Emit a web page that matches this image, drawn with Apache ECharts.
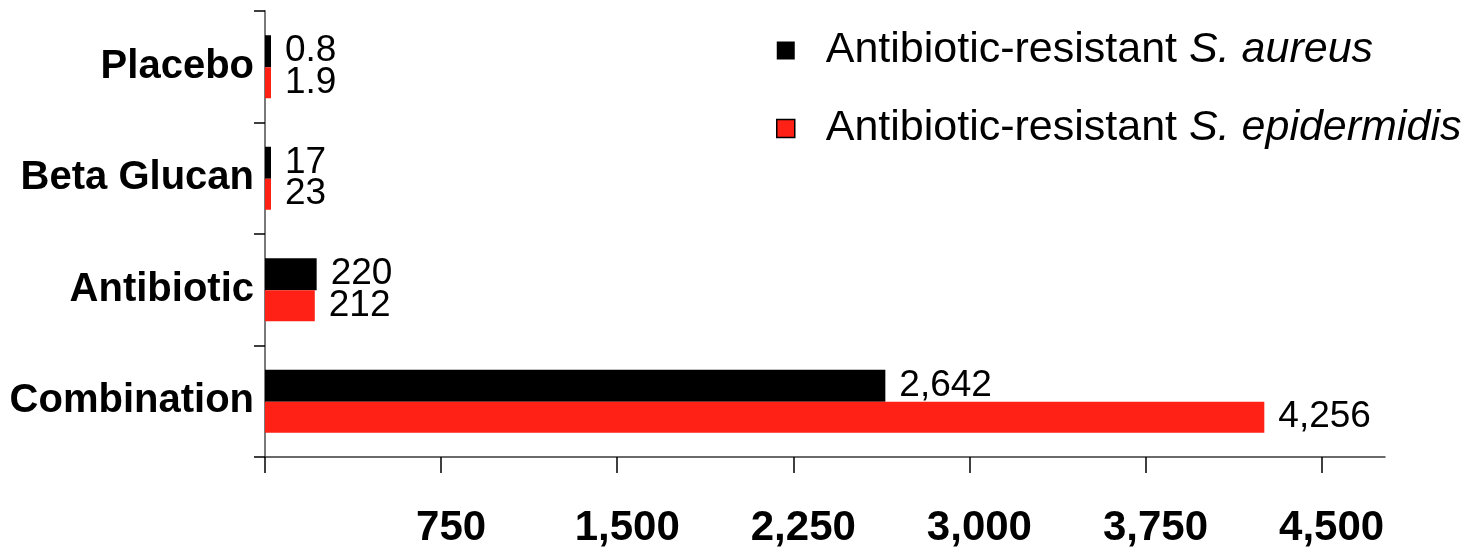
<!DOCTYPE html>
<html>
<head>
<meta charset="utf-8">
<script src="https://cdn.jsdelivr.net/npm/echarts@6/dist/echarts.min.js"></script>
<style>
  html, body { margin: 0; padding: 0; background: #fff; }
  #chart { width: 1467px; height: 551px; }
</style>
</head>
<body>
<div id="chart"></div>
<script>
var categories = ['Placebo', 'Beta Glucan', 'Antibiotic', 'Combination']
var seriesNames = ['Antibiotic-resistant S. aureus', 'Antibiotic-resistant S. epidermidis']
var aureusValues = [0.8, 17, 220, 2642]
var epidermidisValues = [1.9, 23, 212, 4256]
var xTicks = [0, 750, 1500, 2250, 3000, 3750, 4500]
var xTickLabels = [750, 1500, 2250, 3000, 3750, 4500]

var font = 'Liberation Sans, Arial, sans-serif'
var chart = echarts.init(document.getElementById('chart'))

function fmt(v) {
  return Number(v).toLocaleString('en-US')
}

var valueLabel = {
  show: true,
  position: 'right',
  distance: 14,
  fontFamily: font,
  fontSize: 37,
  color: '#000',
  formatter: function (p) { return fmt(p.value) }
}

var option = {
  animation: false,
  grid: { left: 265, right: 82, top: 11, bottom: 94, containLabel: false },
  legend: {
    orient: 'vertical',
    left: 776,
    top: 29,
    padding: 0,
    itemWidth: 18,
    itemHeight: 18,
    itemGap: 35,
    icon: 'rect',
    data: [
      { name: seriesNames[0] },
      { name: seriesNames[1], itemStyle: { borderColor: '#000', borderWidth: 1.5 } }
    ],
    formatter: function (name) {
      var i = name.indexOf(' S.')
      return '{n|' + name.slice(0, i) + ' }{s|' + name.slice(i + 1) + '}'
    },
    textStyle: {
      padding: [0, 0, 0, 26],
      rich: {
        n: { fontFamily: font, fontSize: 43, lineHeight: 53, color: '#000' },
        s: { fontFamily: font, fontSize: 43, lineHeight: 53, fontStyle: 'italic', color: '#000' }
      }
    }
  },
  xAxis: {
    type: 'value',
    min: 0,
    max: 4770,
    splitLine: { show: false },
    axisLine: { show: true, lineStyle: { color: '#3a3a3a', width: 1.5 } },
    axisTick: { show: true, length: 16, customValues: xTicks, lineStyle: { color: '#000', width: 1.5 } },
    axisLabel: {
      customValues: xTickLabels,
      margin: 50,
      fontFamily: font,
      fontSize: 42,
      fontWeight: 'bold',
      color: '#000',
      padding: [0, 0, 0, 20],
      formatter: fmt
    }
  },
  yAxis: {
    type: 'category',
    inverse: true,
    data: categories,
    axisLine: { show: true, lineStyle: { color: '#7a7a7a', width: 2 } },
    axisTick: { show: true, length: 11, lineStyle: { color: '#000', width: 1.5 } },
    axisLabel: {
      margin: 11,
      fontFamily: font,
      fontSize: 40,
      fontWeight: 'bold',
      color: '#000'
    }
  },
  series: [
    {
      name: seriesNames[0],
      type: 'bar',
      data: aureusValues,
      barWidth: 32,
      barGap: '0%',
      barMinHeight: 6,
      itemStyle: { color: '#000' },
      label: valueLabel
    },
    {
      name: seriesNames[1],
      type: 'bar',
      data: epidermidisValues,
      barWidth: 31,
      barGap: '0%',
      barMinHeight: 6,
      itemStyle: { color: '#ff2016' },
      label: valueLabel
    }
  ]
}

chart.setOption(option)
</script>
</body>
</html>
